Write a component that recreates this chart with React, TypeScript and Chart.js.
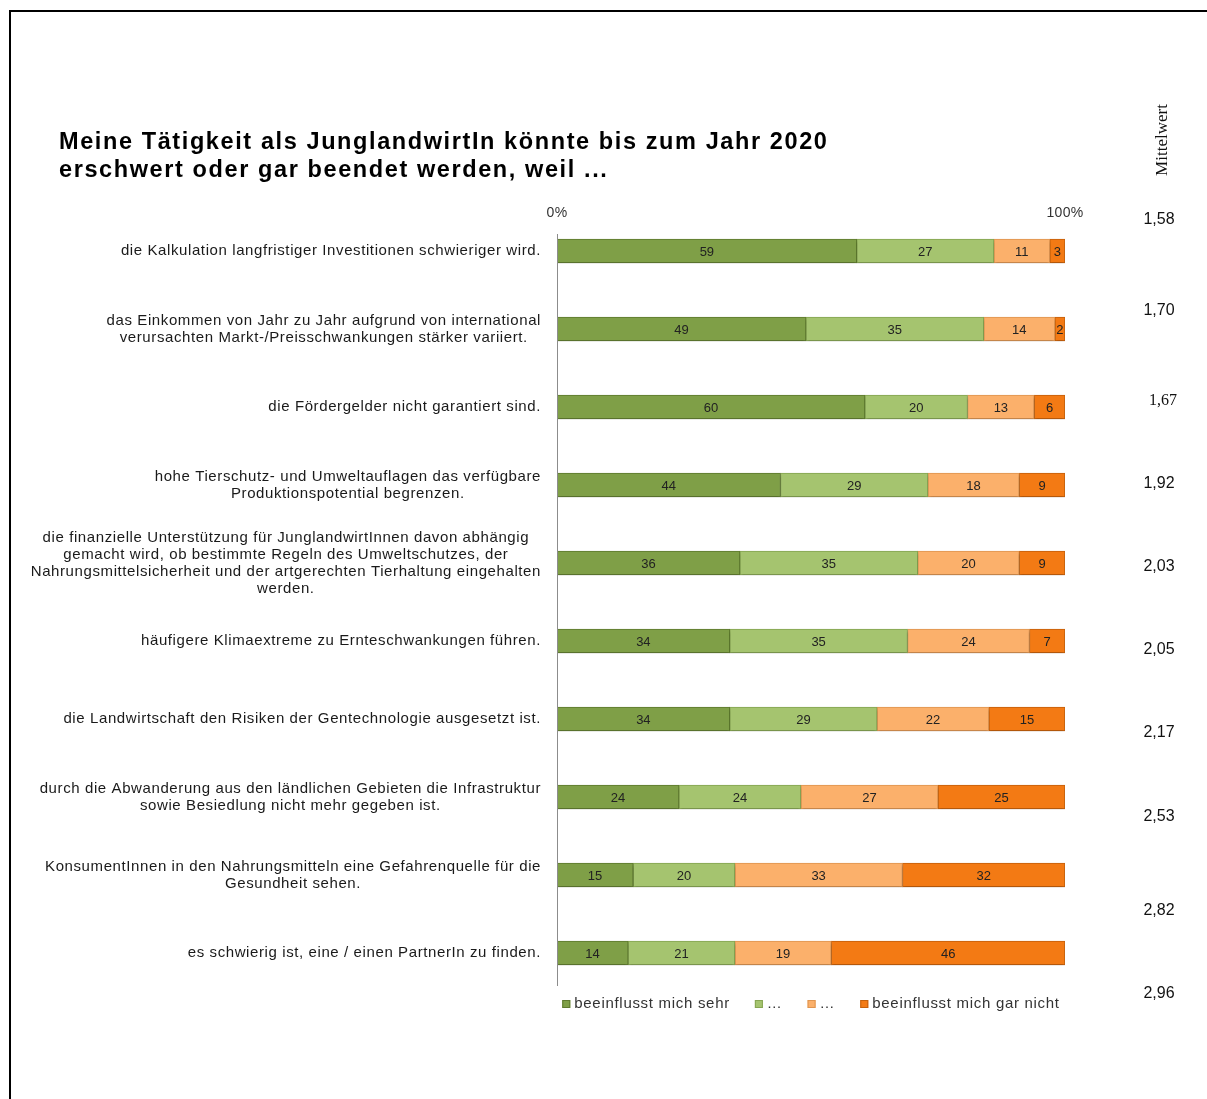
import React, { useEffect, useRef } from "react";
import { Chart, registerables } from "chart.js";

Chart.register(...registerables);

const categories: string[][] = [
  ["die Kalkulation langfristiger Investitionen schwieriger wird."],
  ["das Einkommen von Jahr zu Jahr aufgrund von international", "verursachten Markt-/Preisschwankungen stärker variiert."],
  ["die Fördergelder nicht garantiert sind."],
  ["hohe Tierschutz- und Umweltauflagen das verfügbare", "Produktionspotential begrenzen."],
  [
    "die finanzielle Unterstützung für JunglandwirtInnen davon abhängig",
    "gemacht wird, ob bestimmte Regeln des Umweltschutzes, der",
    "Nahrungsmittelsicherheit und der artgerechten Tierhaltung eingehalten",
    "werden.",
  ],
  ["häufigere Klimaextreme zu Ernteschwankungen führen."],
  ["die Landwirtschaft den Risiken der Gentechnologie ausgesetzt ist."],
  ["durch die Abwanderung aus den ländlichen Gebieten die Infrastruktur", "sowie Besiedlung nicht mehr gegeben ist."],
  ["KonsumentInnen in den Nahrungsmitteln eine Gefahrenquelle für die", "Gesundheit sehen."],
  ["es schwierig ist, eine / einen PartnerIn zu finden."],
];

const seriesNames = ["beeinflusst mich sehr", "…", "…", "beeinflusst mich gar nicht"];
const sehr = [59, 49, 60, 44, 36, 34, 34, 24, 15, 14];
const eher = [27, 35, 20, 29, 35, 35, 29, 24, 20, 21];
const wenig = [11, 14, 13, 18, 20, 24, 22, 27, 33, 19];
const garNicht = [3, 2, 6, 9, 9, 7, 15, 25, 32, 46];
const mittelwert = ["1,58", "1,70", "1,67", "1,92", "2,03", "2,05", "2,17", "2,53", "2,82", "2,96"];
const axisTicks = [0, 100];

// layout-only: vertical offsets of the mean values relative to their bar, and font family flags
const meanOffsets = [-31, -18, -6, -1, 4, 9, 14, 20, 36, 41];
const meanSerif = [false, false, true, false, false, false, false, false, false, false];

const fills = ["#7f9f47", "#a5c46f", "#fbb06b", "#f37a14"];
const borders = ["#5e7a2e", "#86a552", "#df9550", "#c4600c"];

const SANS = "'Liberation Sans', Arial, sans-serif";
const SERIF = "'Liberation Serif', 'Times New Roman', serif";

export default function App() {
  const ref = useRef<HTMLCanvasElement>(null);

  useEffect(() => {
    if (!ref.current) return;
    const raw = [sehr, eher, wenig, garNicht];
    const totals = sehr.map((_, i) => raw.reduce((s, arr) => s + arr[i], 0));

    const overlay = {
      id: "overlay",
      beforeDatasetsDraw(chart: any) {
        const ctx = chart.ctx;
        ctx.save();
        ctx.shadowColor = "rgba(0,0,0,0.28)";
        ctx.shadowBlur = 3;
        ctx.shadowOffsetY = 2;
      },
      afterDatasetsDraw(chart: any) {
        chart.ctx.restore();
      },
      afterDraw(chart: any) {
        const ctx = chart.ctx;
        const xs = chart.scales.x;
        const ys = chart.scales.y;
        ctx.save();

        // axis line
        const x0 = xs.getPixelForValue(0);
        ctx.strokeStyle = "#8c8c8c";
        ctx.lineWidth = 1;
        ctx.beginPath();
        ctx.moveTo(Math.round(x0) + 0.5, chart.chartArea.top + 22);
        ctx.lineTo(Math.round(x0) + 0.5, chart.chartArea.bottom - 6);
        ctx.stroke();

        // tick labels
        ctx.fillStyle = "#333";
        ctx.font = `14px ${SANS}`;
        ctx.textAlign = "center";
        ctx.textBaseline = "middle";
        (ctx as any).letterSpacing = "0.3px";
        axisTicks.forEach((t) => {
          ctx.fillText(t + "%", xs.getPixelForValue(t), chart.chartArea.top + 1);
        });

        // category labels
        ctx.font = `15px ${SANS}`;
        (ctx as any).letterSpacing = "0.6px";
        ctx.fillStyle = "#1a1a1a";
        const right = x0 - 16;
        categories.forEach((lines, i) => {
          const yc = ys.getPixelForValue(i);
          const maxW = Math.max(...lines.map((l) => ctx.measureText(l).width));
          const cx = right - maxW / 2;
          const lh = 17;
          lines.forEach((l, k) => {
            ctx.fillText(l, cx, yc + (k - (lines.length - 1) / 2) * lh);
          });
        });

        // data labels
        (ctx as any).letterSpacing = "0px";
        ctx.font = `13px ${SANS}`;
        ctx.fillStyle = "#222";
        chart.data.datasets.forEach((ds: any, di: number) => {
          const meta = chart.getDatasetMeta(di);
          meta.data.forEach((bar: any, i: number) => {
            const v = raw[di][i];
            const cx = (bar.x + bar.base) / 2;
            ctx.fillText(String(v), cx, bar.y + 1);
          });
        });

        // Mittelwert header
        ctx.save();
        ctx.translate(1163, 140);
        ctx.rotate(-Math.PI / 2);
        ctx.font = `17px ${SERIF}`;
        ctx.fillStyle = "#111";
        ctx.fillText("Mittelwert", 0, 0);
        ctx.restore();

        // mean values
        ctx.fillStyle = "#111";
        mittelwert.forEach((m, i) => {
          const yc = ys.getPixelForValue(i) + meanOffsets[i];
          if (meanSerif[i]) {
            ctx.font = `16px ${SERIF}`;
            ctx.fillText(m, 1163, yc);
          } else {
            ctx.font = `16px ${SANS}`;
            ctx.fillText(m, 1159, yc);
          }
        });

        // legend
        ctx.font = `15px ${SANS}`;
        (ctx as any).letterSpacing = "0.7px";
        const box = 8;
        const gapBox = 4;
        const gapItem = 25;
        const widths = seriesNames.map((n) => box + gapBox + ctx.measureText(n).width);
        const total = widths.reduce((a, b) => a + b, 0) + gapItem * (widths.length - 1);
        let lx = (chart.chartArea.left + chart.chartArea.right) / 2 - total / 2;
        const ly = chart.chartArea.bottom + 12;
        seriesNames.forEach((n, k) => {
          ctx.fillStyle = fills[k];
          ctx.fillRect(lx, ly - box / 2, box, box);
          ctx.strokeStyle = borders[k];
          ctx.strokeRect(lx + 0.5, ly - box / 2 + 0.5, box - 1, box - 1);
          ctx.fillStyle = "#333";
          ctx.textAlign = "left";
          ctx.fillText(n, lx + box + gapBox, ly);
          lx += widths[k] + gapItem;
        });

        ctx.restore();
      },
    };

    const chart = new Chart(ref.current, {
      type: "bar",
      data: {
        labels: categories.map((c) => c.join(" ")),
        datasets: raw.map((arr, k) => ({
          label: seriesNames[k],
          data: arr.map((v, i) => (v / totals[i]) * 100),
          backgroundColor: fills[k],
          borderColor: borders[k],
          borderWidth: 1,
          borderSkipped: false,
          barThickness: 24,
        })),
      },
      options: {
        indexAxis: "y",
        animation: false,
        responsive: false,
        maintainAspectRatio: false,
        layout: { padding: { left: 557, right: 142, top: 212, bottom: 107 } },
        plugins: {
          legend: { display: false },
          title: { display: false },
          tooltip: { enabled: false },
        },
        scales: {
          x: { stacked: true, min: 0, max: 100, display: false },
          y: { stacked: true, display: false },
        },
      },
      plugins: [overlay],
    } as any);

    return () => chart.destroy();
  }, []);

  return (
    <div style={{ position: "absolute", left: 0, top: 0, width: 1207, height: 1099, background: "#fff", overflow: "hidden" }}>
      <canvas ref={ref} width={1207} height={1099} style={{ position: "absolute", left: 0, top: 0, width: 1207, height: 1099 }} />
      <div
        style={{
          position: "absolute",
          left: 9,
          top: 10,
          width: 1207,
          height: 1099,
          borderTop: "2px solid #000",
          borderLeft: "2px solid #000",
          pointerEvents: "none",
        }}
      />
      <div
        style={{
          position: "absolute",
          left: 59,
          top: 127,
          font: `bold 23.5px ${SANS}`,
          letterSpacing: "1.6px",
          lineHeight: "28px",
          color: "#000",
          whiteSpace: "nowrap",
        }}
      >
        Meine Tätigkeit als JunglandwirtIn könnte bis zum Jahr 2020
        <br />
        erschwert oder gar beendet werden, weil ...
      </div>
    </div>
  );
}
